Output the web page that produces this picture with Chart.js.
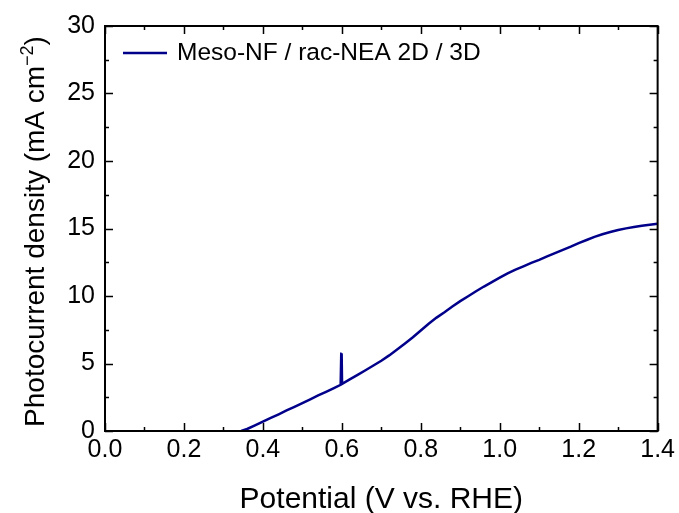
<!DOCTYPE html>
<html>
<head>
<meta charset="utf-8">
<script src="https://cdn.jsdelivr.net/npm/chart.js@4.4.1/dist/chart.umd.min.js"></script>
<style>
  html, body { margin: 0; padding: 0; background: #fff; }
  #wrap { width: 679px; height: 513px; }
</style>
</head>
<body>
<div id="wrap"><canvas id="myChart" width="679" height="513"></canvas></div>
<script>
// J-V scan, photocurrent vs potential
const seriesName = 'Meso-NF / rac-NEA 2D / 3D';
const potential = [
  0.345, 0.36, 0.38, 0.40, 0.42, 0.44, 0.46, 0.48, 0.50, 0.52, 0.54, 0.56, 0.58,
  0.597, 0.5985, 0.5995, 0.6005, 0.601,
  0.62, 0.64, 0.66, 0.68, 0.70, 0.72, 0.74, 0.76, 0.78, 0.80, 0.82, 0.84, 0.86, 0.88,
  0.90, 0.92, 0.94, 0.96, 0.98, 1.00, 1.02, 1.04, 1.06, 1.08, 1.10, 1.12, 1.14, 1.16,
  1.18, 1.20, 1.22, 1.24, 1.26, 1.28, 1.30, 1.32, 1.34, 1.36, 1.38, 1.40
];
const current = [
  0.00, 0.15, 0.42, 0.70, 0.97, 1.24, 1.52, 1.79, 2.07, 2.35, 2.63, 2.90, 3.18,
  3.42, 5.72, 5.75, 3.60, 3.50,
  3.82, 4.16, 4.50, 4.85, 5.20, 5.60, 6.03, 6.48, 6.95, 7.45, 7.95, 8.40, 8.80, 9.22,
  9.62, 9.98, 10.35, 10.70, 11.03, 11.36, 11.68, 11.95, 12.20, 12.45, 12.68, 12.93, 13.17, 13.42,
  13.66, 13.92, 14.15, 14.38, 14.57, 14.74, 14.89, 15.01, 15.11, 15.20, 15.28, 15.35
];

const xTicks = [0, 0.2, 0.4, 0.6, 0.8, 1.0, 1.2, 1.4];
const xTickLabels = ['0.0', '0.2', '0.4', '0.6', '0.8', '1.0', '1.2', '1.4'];
const yTicks = [0, 5, 10, 15, 20, 25, 30];
const yTickLabels = ['0', '5', '10', '15', '20', '25', '30'];

const FONT = '"Liberation Sans", Arial, sans-serif';
const lineColor = '#00008a';

const points = potential.map((v, i) => ({ x: v, y: current[i] }));

// frame, inward ticks on all four sides, axis titles and legend
const framePlugin = {
  id: 'frame',
  afterDatasetsDraw(chart) {
    const { ctx, chartArea: a, scales } = chart;
    const xs = scales.x, ys = scales.y;
    ctx.save();
    ctx.strokeStyle = '#000';
    ctx.lineWidth = 2;
    ctx.strokeRect(a.left, a.top, a.right - a.left, a.bottom - a.top);

    ctx.lineWidth = 1.5;
    ctx.beginPath();
    for (let v = 0; v <= 1.4001; v += 0.1) {
      const px = Math.round(xs.getPixelForValue(v)) + 0.5;
      const major = Math.round(v * 10) % 2 === 0;
      const len = major ? 8 : 4;
      ctx.moveTo(px, a.bottom); ctx.lineTo(px, a.bottom - len);
      ctx.moveTo(px, a.top); ctx.lineTo(px, a.top + len);
    }
    for (let v = 0; v <= 30.001; v += 2.5) {
      const py = Math.round(ys.getPixelForValue(v)) + 0.5;
      const major = Math.round(v * 2) % 10 === 0;
      const len = major ? 8 : 4;
      ctx.moveTo(a.left, py); ctx.lineTo(a.left + len, py);
      ctx.moveTo(a.right, py); ctx.lineTo(a.right - len, py);
    }
    ctx.stroke();

    // x title
    ctx.fillStyle = '#000';
    ctx.font = '30px ' + FONT;
    ctx.textAlign = 'center';
    ctx.textBaseline = 'alphabetic';
    ctx.fillText('Potential (V vs. RHE)', (a.left + a.right) / 2, 508);

    // y title with superscript
    const main = 'Photocurrent density (mA cm';
    const sup = '\u22122';
    const tail = ')';
    ctx.font = '28px ' + FONT;
    const wMain = ctx.measureText(main).width;
    const wTail = ctx.measureText(tail).width;
    ctx.font = '18px ' + FONT;
    const wSup = ctx.measureText(sup).width;
    const total = wMain + wSup + wTail;
    ctx.translate(44, (a.top + a.bottom) / 2 + 3);
    ctx.rotate(-Math.PI / 2);
    ctx.textAlign = 'left';
    let x0 = -total / 2;
    ctx.font = '28px ' + FONT;
    ctx.fillText(main, x0, 0);
    ctx.font = '18px ' + FONT;
    ctx.fillText(sup, x0 + wMain, -11);
    ctx.font = '28px ' + FONT;
    ctx.fillText(tail, x0 + wMain + wSup, 0);
    ctx.restore();

    // legend
    ctx.save();
    const ly = a.top + 27;
    ctx.strokeStyle = lineColor;
    ctx.lineWidth = 2.5;
    ctx.beginPath();
    ctx.moveTo(a.left + 18, ly);
    ctx.lineTo(a.left + 62, ly);
    ctx.stroke();
    ctx.fillStyle = '#000';
    ctx.font = '24.5px ' + FONT;
    ctx.textAlign = 'left';
    ctx.textBaseline = 'middle';
    ctx.fillText(chart.data.datasets[0].label, a.left + 72, ly);
    ctx.restore();
  }
};

const ctx = document.getElementById('myChart').getContext('2d');
const myChart = new Chart(ctx, {
  type: 'line',
  data: {
    datasets: [{
      label: seriesName,
      data: points,
      borderColor: lineColor,
      borderWidth: 2.5,
      pointRadius: 0,
      fill: false,
      tension: 0
    }]
  },
  options: {
    responsive: false,
    animation: false,
    layout: { padding: { top: 26, right: 20, left: 0, bottom: 0 } },
    plugins: { legend: { display: false }, tooltip: { enabled: false } },
    scales: {
      x: {
        type: 'linear',
        min: 0, max: 1.4,
        afterBuildTicks: s => { s.ticks = xTicks.map(v => ({ value: v })); },
        afterFit: s => { s.height = 82; },
        grid: { display: false, drawTicks: false },
        border: { display: false },
        ticks: {
          color: '#000',
          font: { family: FONT, size: 25 },
          padding: 4,
          maxRotation: 0,
          callback: (v) => xTickLabels[xTicks.findIndex(t => Math.abs(t - v) < 1e-6)]
        }
      },
      y: {
        type: 'linear',
        min: 0, max: 30,
        afterBuildTicks: s => { s.ticks = yTicks.map(v => ({ value: v })); },
        afterFit: s => { s.width = 105; },
        grid: { display: false, drawTicks: false },
        border: { display: false },
        ticks: {
          color: '#000',
          font: { family: FONT, size: 25 },
          padding: 10,
          callback: (v) => yTickLabels[yTicks.indexOf(v)]
        }
      }
    }
  },
  plugins: [framePlugin]
});
</script>
</body>
</html>
